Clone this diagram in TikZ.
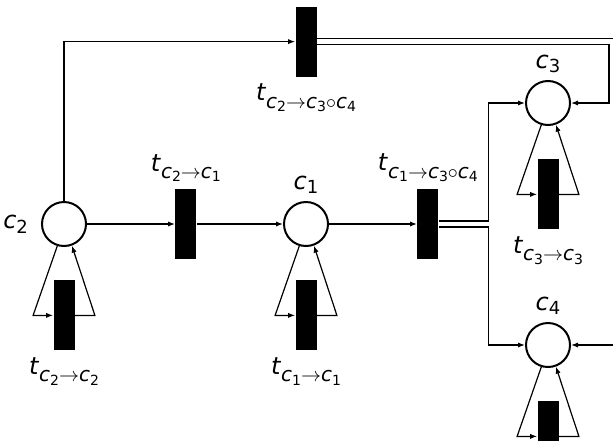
\documentclass[tikz,border=0pt]{standalone}
\usepackage{fontspec}
\setmainfont{DejaVu Sans}
\usepackage{tikz}
\usetikzlibrary{arrows.meta,positioning}

% rotulos: c_i e t_{...}
\newcommand{\pl}[1]{\textit{c}\raisebox{-0.35ex}{\fontsize{9}{10}\selectfont #1}}
\newcommand{\subc}[1]{\textit{c}\raisebox{-0.3ex}{\fontsize{7}{8}\selectfont #1}}
\newcommand{\tr}[1]{\textit{t}\raisebox{-0.55ex}{\fontsize{10}{11}\selectfont #1}}

\begin{document}
\begin{tikzpicture}[x=0.5pt, y=0.5pt, font=\fontsize{12}{14}\selectfont,
        >={Latex[length=3.5pt,width=2.6pt]},
        place/.style={circle, draw, line width=1pt, minimum size=22pt, inner sep=0pt},
        trans/.style={rectangle, fill=black, minimum width=10.5pt, minimum height=35pt, inner sep=0pt},
        arc/.style={->, line width=0.6pt}]
        \useasboundingbox (0,0) rectangle (613,440);

        % Lugares
        \node[place, label={[label distance=3pt]left:\pl{2}}] (c2) at (64,216) {};
        \node[place, label=above:\pl{1}] (c1) at (306,216) {};
        \node[place, label=above:\pl{3}] (c3) at (548,337) {};
        \node[place, label=above:\pl{4}] (c4) at (548,95) {};

        % Transicoes
        \node[trans, right=44pt of c2, label=above:\tr{\subc{2}$\to$\subc{1}}] (t21) {};
        \node[trans, right=44pt of c1, label=above:\tr{\subc{1}$\to$\subc{3}$\circ$\subc{4}}] (t134) {};
        \node[trans, above=62pt of c1, label=below:\tr{\subc{2}$\to$\subc{3}$\circ$\subc{4}}] (t234) {};
        \node[trans, below=16.5pt of c2, label=below:\tr{\subc{2}$\to$\subc{2}}] (t22) {};
        \node[trans, below=16.5pt of c1, label=below:\tr{\subc{1}$\to$\subc{1}}] (t11) {};
        \node[trans, below=16.5pt of c3, label=below:\tr{\subc{3}$\to$\subc{3}}] (t33) {};
        \node[trans, below=16.5pt of c4] (t44) {};

        % Arcos principais
        \draw[arc] (c2.east) -- (t21.west);
        \draw[arc] (t21.east) -- (c1.west);
        \draw[arc] (c1.east) -- (t134.west);
        \draw[arc] ([yshift=1.5pt]t134.east) -- ++(25pt,0) |- (c3.west);
        \draw[arc] ([yshift=-1.5pt]t134.east) -- ++(25pt,0) |- (c4.west);
        \draw[arc] (c2.north) |- (t234.west);
        \draw[arc] ([yshift=-1.5pt]t234.east) -| ([xshift=19pt]c3.east) -- (c3.east);
        \draw[arc] ([yshift=1.5pt]t234.east) -| ([xshift=40pt]c4.east) -- (c4.east);

        % Lacos
        \foreach \p/\t in {c2/t22, c1/t11, c3/t33, c4/t44} {
            \draw[arc] (\p.-107) -- ([xshift=-10pt]\t.west) -- (\t.west);
            \draw[arc] (\t.east) -- ([xshift=10pt]\t.east) -- (\p.-70);
        }
    \end{tikzpicture}
\end{document}
